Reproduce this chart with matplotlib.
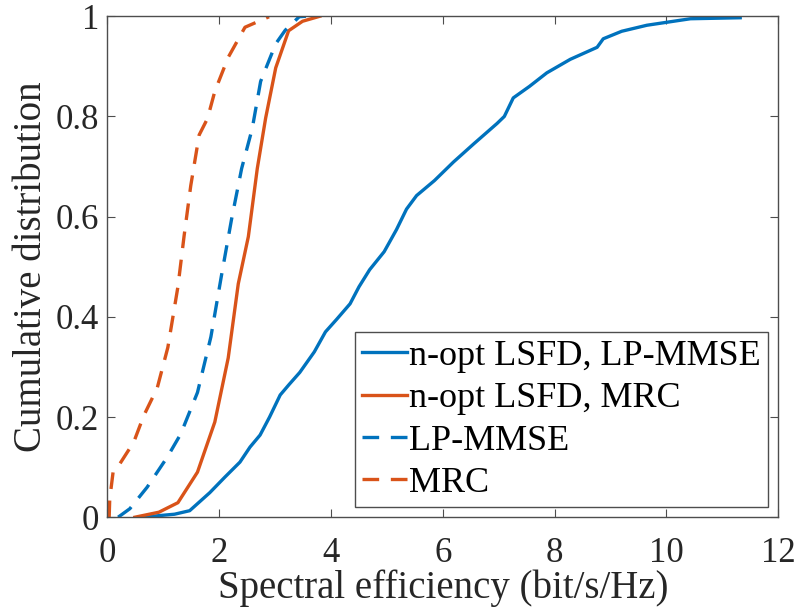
import matplotlib.pyplot as plt
import numpy as np

plt.rcParams['font.family'] = ['Liberation Serif', 'DejaVu Serif']

# CDF curves
lsfd_mmse_x = [0.61, 1.2, 1.47, 1.83, 2.1, 2.37, 2.55, 2.73, 2.9, 3.09, 3.25, 3.44, 3.7, 3.9,
               4.1, 4.34, 4.5, 4.69, 4.95, 5.17, 5.35, 5.53, 5.85, 6.19, 6.55, 6.97, 7.1,
               7.26, 7.55, 7.86, 8.28, 8.76, 8.87, 9.2, 9.65, 10.43, 11.32]
lsfd_mmse_y = [0.0, 0.006, 0.013, 0.049, 0.08, 0.11, 0.14, 0.164, 0.2, 0.244, 0.265, 0.289,
               0.33, 0.37, 0.395, 0.426, 0.46, 0.494, 0.53, 0.574, 0.615, 0.642, 0.672, 0.709,
               0.745, 0.786, 0.8, 0.837, 0.86, 0.887, 0.914, 0.938, 0.955, 0.97, 0.982, 0.995,
               0.997]

lsfd_mrc_x = [0.49, 0.92, 1.26, 1.61, 1.92, 2.16, 2.34, 2.52, 2.68, 2.83, 3.01, 3.24, 3.49, 3.8]
lsfd_mrc_y = [0.0, 0.01, 0.029, 0.09, 0.19, 0.318, 0.466, 0.56, 0.696, 0.797, 0.897, 0.971, 0.99, 1.0]

mmse_x = [0.19, 0.4, 0.71, 1.07, 1.31, 1.61, 1.85, 2.04, 2.22, 2.4, 2.59, 2.74, 3.01, 3.18,
          3.43, 3.55]
mmse_y = [0.0, 0.017, 0.06, 0.12, 0.166, 0.249, 0.36, 0.483, 0.595, 0.696, 0.776, 0.87, 0.945,
          0.972, 0.999, 1.0]

mrc_x = [0.03, 0.04, 0.1, 0.16, 0.47, 0.65, 0.89, 1.08, 1.26, 1.37, 1.49, 1.64, 1.79, 1.92,
         2.16, 2.46, 2.89]
mrc_y = [0.0, 0.036, 0.09, 0.096, 0.15, 0.203, 0.258, 0.339, 0.46, 0.561, 0.662, 0.763, 0.796,
         0.85, 0.918, 0.978, 0.999]

blue = '#0072BD'
orange = '#D95319'

fig = plt.figure(figsize=(7.98, 6.15), dpi=100)
ax = fig.add_axes([0.1347, 0.159, 0.8405, 0.8146])

lw = 2.4
dash = (0, (5, 3.5))
ax.plot(lsfd_mmse_x, lsfd_mmse_y, color=blue, lw=lw, label='n-opt LSFD, LP-MMSE')
ax.plot(lsfd_mrc_x, lsfd_mrc_y, color=orange, lw=lw, label='n-opt LSFD, MRC')
ax.plot(mmse_x, mmse_y, color=blue, lw=lw, ls=dash, label='LP-MMSE')
ax.plot(mrc_x, mrc_y, color=orange, lw=lw, ls=dash, label='MRC')

ax.set_xlim(0, 12)
ax.set_ylim(0, 1)
ax.set_xticks(np.arange(0, 13, 2))
ax.set_yticks([0, 0.2, 0.4, 0.6, 0.8, 1])
ax.set_yticklabels(['0', '0.2', '0.4', '0.6', '0.8', '1'])
ax.tick_params(direction='in', top=True, right=True, labelsize=25, length=6,
               color='#4d4d4d', labelcolor='#262626')
ax.tick_params(axis='x', pad=14)
ax.tick_params(axis='y', pad=6)
for s in ax.spines.values():
    s.set_color('#4d4d4d')
    s.set_linewidth(1)
ax.set_xlabel('Spectral efficiency (bit/s/Hz)', fontsize=28, labelpad=0, color='#262626')
ax.set_ylabel('Cumulative distribution', fontsize=28, labelpad=4, color='#262626')

leg = ax.legend(loc='lower right', fontsize=26, fancybox=False, framealpha=1,
                edgecolor='#4d4d4d', handlelength=1.25, handletextpad=0.05,
                borderpad=0.2, labelspacing=0.25, borderaxespad=0.28)
leg.get_frame().set_linewidth(1)

fig.savefig('out.png', dpi=100)
